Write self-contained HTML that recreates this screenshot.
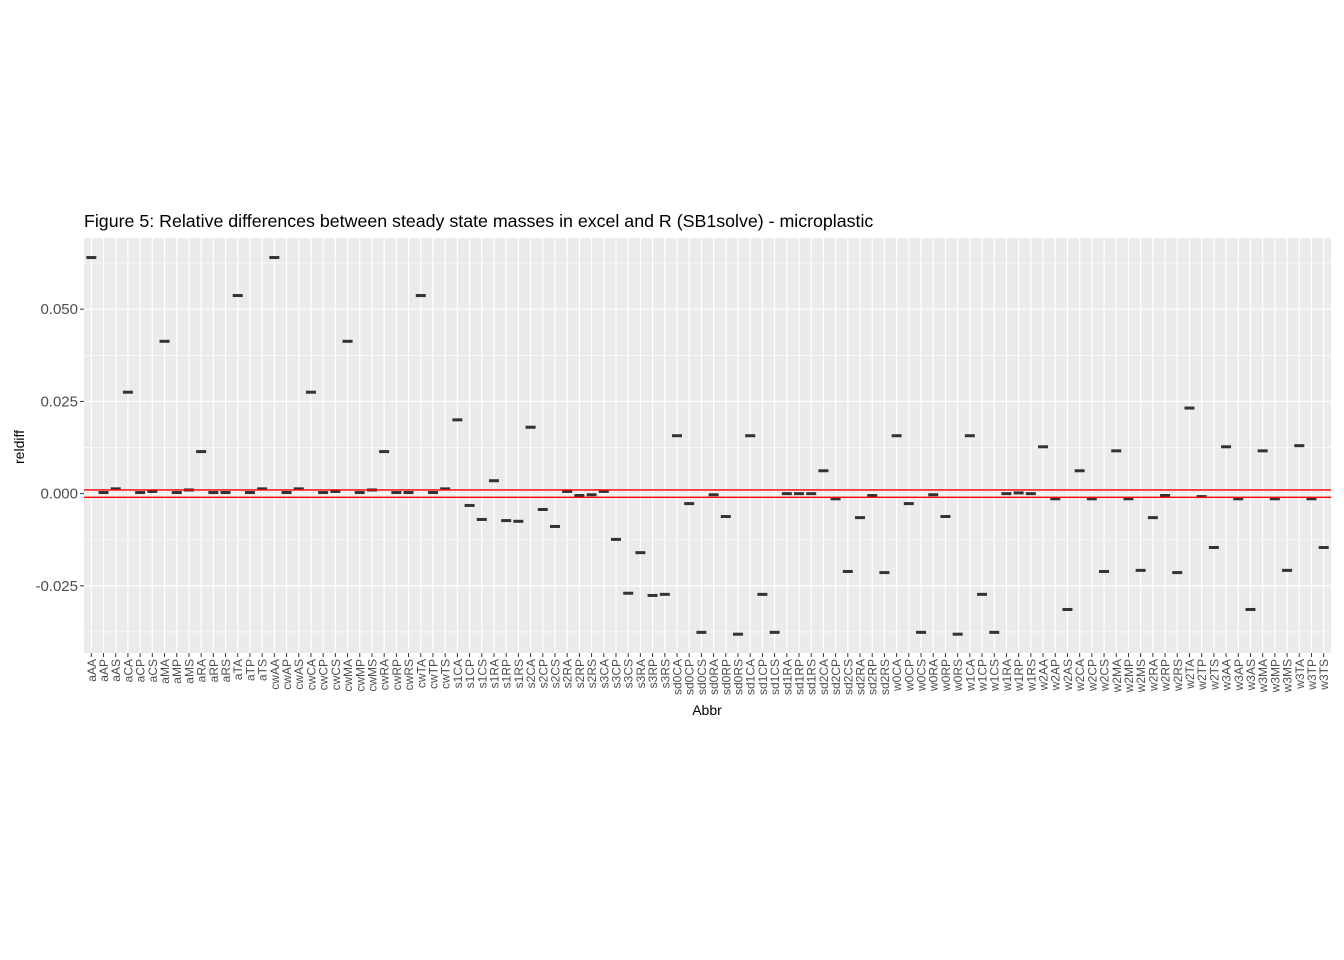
<!DOCTYPE html>
<html><head><meta charset="utf-8"><style>
body{margin:0;background:#fff;}
svg{display:block;font-family:"Liberation Sans",sans-serif;}
</style></head><body>
<svg id="chart" width="1344" height="960">
<text x="84" y="227" font-size="17.8" fill="#000">Figure 5: Relative differences between steady state masses in excel and R (SB1solve) - microplastic</text>
<g id="panel"></g>
<text x="707" y="715" font-size="14" text-anchor="middle" fill="#000">Abbr</text>
<text transform="translate(24,447) rotate(-90)" font-size="14" text-anchor="middle" fill="#000">reldiff</text>
</svg>
<script>
const categories=["aAA","aAP","aAS","aCA","aCP","aCS","aMA","aMP","aMS","aRA","aRP","aRS","aTA","aTP","aTS","cwAA","cwAP","cwAS","cwCA","cwCP","cwCS","cwMA","cwMP","cwMS","cwRA","cwRP","cwRS","cwTA","cwTP","cwTS","s1CA","s1CP","s1CS","s1RA","s1RP","s1RS","s2CA","s2CP","s2CS","s2RA","s2RP","s2RS","s3CA","s3CP","s3CS","s3RA","s3RP","s3RS","sd0CA","sd0CP","sd0CS","sd0RA","sd0RP","sd0RS","sd1CA","sd1CP","sd1CS","sd1RA","sd1RP","sd1RS","sd2CA","sd2CP","sd2CS","sd2RA","sd2RP","sd2RS","w0CA","w0CP","w0CS","w0RA","w0RP","w0RS","w1CA","w1CP","w1CS","w1RA","w1RP","w1RS","w2AA","w2AP","w2AS","w2CA","w2CP","w2CS","w2MA","w2MP","w2MS","w2RA","w2RP","w2RS","w2TA","w2TP","w2TS","w3AA","w3AP","w3AS","w3MA","w3MP","w3MS","w3TA","w3TP","w3TS"];
const reldiff=[0.064,0.0003,0.0013,0.0275,0.0003,0.0006,0.0413,0.0003,0.001,0.0114,0.0003,0.0003,0.0537,0.0003,0.0013,
0.064,0.0003,0.0013,0.0275,0.0003,0.0006,0.0413,0.0003,0.001,0.0114,0.0003,0.0003,0.0537,0.0003,0.0013,
0.020,-0.0032,-0.007,0.0035,-0.0073,-0.0075,0.018,-0.0043,-0.0089,0.0006,-0.0005,-0.0003,0.0006,-0.0124,-0.027,-0.016,-0.0276,-0.0273,
0.0157,-0.0027,-0.0376,-0.0003,-0.0062,-0.0381,0.0157,-0.0273,-0.0376,0,0,0,0.0062,-0.0014,-0.0211,-0.0065,-0.0005,-0.0214,
0.0157,-0.0027,-0.0376,-0.0003,-0.0062,-0.0381,0.0157,-0.0273,-0.0376,0,0.0002,0,
0.0127,-0.0014,-0.0314,0.0062,-0.0014,-0.0211,0.0116,-0.0014,-0.0208,-0.0065,-0.0005,-0.0214,0.0232,-0.0008,-0.0146,
0.0127,-0.0014,-0.0314,0.0116,-0.0014,-0.0208,0.013,-0.0014,-0.0146];
const yTicks=[0.05,0.025,0,-0.025];
const yTickLabels=["0.050","0.025","0.000","-0.025"];
const yMinor=[0.0625,0.0375,0.0125,-0.0125,-0.0375];
const refLines=[0.001,-0.001];

const NS="http://www.w3.org/2000/svg";
const L=84,R=1331,T=238,B=653;
const yMin=-0.0432,yMax=0.0693;
const y=v=>B-(v-yMin)/(yMax-yMin)*(B-T);
const step=(R-L)/(categories.length-1+1.2);
const x=i=>L+step*(0.6+i);
const g=document.getElementById('panel');
function mk(tag,attrs,parent){const e=document.createElementNS(NS,tag);for(const k in attrs)e.setAttribute(k,attrs[k]);(parent||g).appendChild(e);return e;}
const bg=mk('rect',{x:L,y:T,width:R-L,height:B-T,fill:'#EBEBEB'});


yMinor.forEach(v=>{const l=mk('line',{x1:L,x2:R,y1:y(v),y2:y(v),stroke:'#fff','stroke-width':0.6});

});
yTicks.forEach((v,i)=>{const l=mk('line',{x1:L,x2:R,y1:y(v),y2:y(v),stroke:'#fff','stroke-width':1.2});


const t=mk('line',{x1:L-4,x2:L,y1:y(v),y2:y(v),stroke:'#333','stroke-width':1});


const tx=mk('text',{x:L-6,y:y(v)+5,'font-size':15,'text-anchor':'end',fill:'#4D4D4D'});tx.textContent=yTickLabels[i];

});
categories.forEach((c,i)=>{const l=mk('line',{x1:x(i),x2:x(i),y1:T,y2:B,stroke:'#fff','stroke-width':1.2});


const t=mk('line',{x1:x(i),x2:x(i),y1:B,y2:B+4,stroke:'#333','stroke-width':1});


const tx=mk('text',{transform:`translate(${x(i)+4.5},${B+6}) rotate(-90)`,'font-size':12,'text-anchor':'end',fill:'#4D4D4D'});tx.textContent=c;

});
reldiff.forEach((v,i)=>{const r=mk('rect',{x:x(i)-5,y:y(v)-1.5,width:10,height:3,fill:'#333'});

});
refLines.forEach(v=>{const l=mk('line',{x1:L,x2:R,y1:y(v),y2:y(v),stroke:'#FF0000','stroke-width':1.3});

});
</script>
</body></html>
